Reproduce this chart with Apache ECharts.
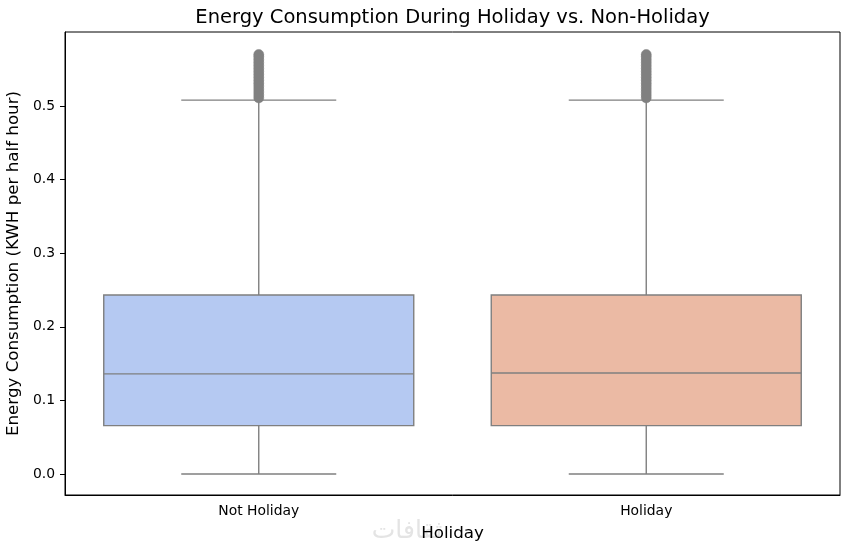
<!DOCTYPE html>
<html>
<head>
<meta charset="utf-8">
<script src="https://cdn.jsdelivr.net/npm/echarts@6/dist/echarts.min.js"></script>
<style>html,body{margin:0;padding:0;background:#fff}#c{width:850px;height:552px}</style>
</head>
<body>
<div id="c"></div>
<script>
// ---- data ----
const categories = ['Not Holiday', 'Holiday'];
const whiskerLow = [0.0, 0.0];
const q1 = [0.0658, 0.0658];
const median = [0.136, 0.1373];
const q3 = [0.2432, 0.2432];
const whiskerHigh = [0.508, 0.508];
const outliersNotHoliday = [0.511, 0.515, 0.519, 0.523, 0.527, 0.531, 0.535, 0.539, 0.543, 0.547, 0.551, 0.555, 0.559, 0.563, 0.567, 0.570];
const outliersHoliday = [0.511, 0.515, 0.519, 0.523, 0.527, 0.531, 0.535, 0.539, 0.543, 0.547, 0.551, 0.555, 0.559, 0.563, 0.567, 0.570];
const yTicks = [0.0, 0.1, 0.2, 0.3, 0.4, 0.5];
const boxColors = ['#b5c9f2', '#ebbaa4'];

const boxData = categories.map((c, i) => [i, whiskerLow[i], q1[i], median[i], q3[i], whiskerHigh[i]]);
const outlierData = [];
outliersNotHoliday.forEach(v => outlierData.push([0, v]));
outliersHoliday.forEach(v => outlierData.push([1, v]));

const edge = '#7f7f7f';
const chart = echarts.init(document.getElementById('c'), null, {renderer: 'canvas'});
const font = 'DejaVu Sans';

chart.setOption({
  animation: false,
  textStyle: {fontFamily: font},
  grid: {left: 65, right: 10, top: 32, bottom: 57, containLabel: false, outerBoundsMode: 'none', show: true, borderColor: '#000', borderWidth: 1, backgroundColor: 'transparent'},
  graphic: [
    {type: 'text', x: 452.5, y: 8, style: {text: 'Energy Consumption During Holiday vs. Non-Holiday', font: '19.5px "DejaVu Sans"', fill: '#000', textAlign: 'center'}},
    {type: 'text', x: 407, y: 519, style: {text: 'ثقافات', font: '25px "DejaVu Sans"', fill: '#e4e4e4', textAlign: 'center'}, z: -1}
  ],
  xAxis: {
    type: 'category',
    data: categories,
    name: 'Holiday',
    nameLocation: 'middle',
    nameGap: 30,
    nameTextStyle: {fontSize: 16.7, color: '#000', fontFamily: font},
    axisLine: {onZero: false, lineStyle: {color: '#000', width: 1}},
    axisTick: {alignWithLabel: true, length: 5, lineStyle: {color: '#000'}},
    axisLabel: {color: '#000', fontSize: 13.9, margin: 9, fontFamily: font},
    splitLine: {show: false}
  },
  yAxis: {
    type: 'value',
    min: -0.0285,
    max: 0.6005,
    name: 'Energy Consumption (KWH per half hour)',
    nameLocation: 'middle',
    nameGap: 34,
    nameTextStyle: {fontSize: 16.7, color: '#000', fontFamily: font},
    axisLine: {show: true, onZero: false, lineStyle: {color: '#000', width: 1}},
    axisTick: {show: true, length: 5, lineStyle: {color: '#000'}, customValues: yTicks},
    axisLabel: {color: '#000', fontSize: 13.9, margin: 10, fontFamily: font, customValues: yTicks, formatter: v => v.toFixed(1)},
    splitLine: {show: false}
  },
  series: [
    {
      type: 'custom',
      data: boxData,
      encode: {x: 0, y: [1, 2, 3, 4, 5]},
      renderItem: function (params, api) {
        const idx = api.value(0);
        const w = api.size([1, 0])[0] * 0.8;
        const cap = w / 2;
        const pLow = api.coord([idx, api.value(1)]);
        const pQ1 = api.coord([idx, api.value(2)]);
        const pMed = api.coord([idx, api.value(3)]);
        const pQ3 = api.coord([idx, api.value(4)]);
        const pHigh = api.coord([idx, api.value(5)]);
        const cx = pLow[0];
        const ls = {stroke: edge, lineWidth: 1.4};
        return {
          type: 'group',
          children: [
            {type: 'line', shape: {x1: cx, y1: pQ1[1], x2: cx, y2: pLow[1]}, style: ls},
            {type: 'line', shape: {x1: cx, y1: pQ3[1], x2: cx, y2: pHigh[1]}, style: ls},
            {type: 'line', shape: {x1: cx - cap / 2, y1: pLow[1], x2: cx + cap / 2, y2: pLow[1]}, style: ls},
            {type: 'line', shape: {x1: cx - cap / 2, y1: pHigh[1], x2: cx + cap / 2, y2: pHigh[1]}, style: ls},
            {type: 'rect', shape: {x: cx - w / 2, y: pQ3[1], width: w, height: pQ1[1] - pQ3[1]}, style: {fill: boxColors[params.dataIndex], stroke: edge, lineWidth: 1.4}},
            {type: 'line', shape: {x1: cx - w / 2, y1: pMed[1], x2: cx + w / 2, y2: pMed[1]}, style: ls}
          ]
        };
      }
    },
    {
      type: 'scatter',
      data: outlierData,
      symbol: 'circle',
      symbolSize: 10,
      itemStyle: {color: '#808080', borderColor: '#808080', borderWidth: 0.5, opacity: 1}
    }
  ]
});
</script>
</body>
</html>
